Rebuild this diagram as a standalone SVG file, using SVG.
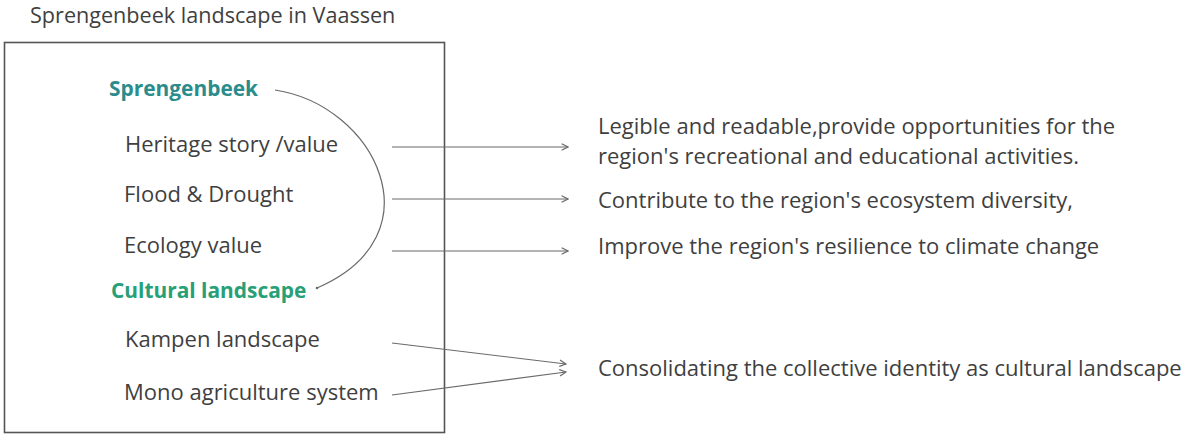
<svg xmlns="http://www.w3.org/2000/svg" width="1186" height="436" viewBox="0 0 1186 436">
<style>
text{font-family:"Open Sans","Liberation Sans",sans-serif;fill:#3f3f3f;font-size:22px}
.t{font-size:21.6px}
.h{font-weight:bold;font-size:20.9px}
.c{fill:none;stroke:#6a6a6a;stroke-width:1.2}
</style>
<defs>
<marker id="ah" viewBox="0 0 10 10" refX="9" refY="5" markerWidth="8" markerHeight="8" markerUnits="userSpaceOnUse" orient="auto">
<path d="M1,1 L9,5 L1,9" fill="none" stroke="#6a6a6a" stroke-width="1.5"/>
</marker>
</defs>
<rect width="1186" height="436" fill="#fff"/>
<text class="t" x="30" y="23">Sprengenbeek landscape in Vaassen</text>
<rect x="4.5" y="42.5" width="440" height="390" fill="none" stroke="#555" stroke-width="1.6"/>
<g id="n-sprengenbeek"><text class="h" x="109" y="96" style="fill:#2b8c8c">Sprengenbeek</text></g>
<g id="n-heritage"><text x="125" y="152">Heritage story /value</text></g>
<g id="n-flood"><text x="124" y="202">Flood &amp; Drought</text></g>
<g id="n-ecology"><text x="124" y="253">Ecology value</text></g>
<g id="n-cultural"><text class="h" x="111" y="298" style="fill:#27a077">Cultural landscape</text></g>
<g id="n-kampen"><text x="125" y="347">Kampen landscape</text></g>
<g id="n-mono"><text x="124" y="400">Mono agriculture system</text></g>
<g id="n-legible"><text x="598" y="134">Legible and readable,provide opportunities for the</text><text x="598" y="164">region's recreational and educational activities.</text></g>
<g id="n-contribute"><text x="598" y="208">Contribute to the region's ecosystem diversity,</text></g>
<g id="n-improve"><text x="598" y="254">Improve the region's resilience to climate change</text></g>
<g id="n-consolidating"><text x="598" y="376">Consolidating the collective identity as cultural landscape</text></g>
<g id="connectors">
<path class="c" d="M275,90 C375,105 440,235 317,288"/>
<circle cx="317" cy="288" r="1.3" fill="#6a6a6a"/>
<line class="c" x1="392" y1="147" x2="568" y2="147" marker-end="url(#ah)"/>
<line class="c" x1="392" y1="199" x2="568" y2="199" marker-end="url(#ah)"/>
<line class="c" x1="392" y1="251" x2="568" y2="251" marker-end="url(#ah)"/>
<line class="c" x1="392" y1="343" x2="566" y2="364" marker-end="url(#ah)"/>
<line class="c" x1="392" y1="395" x2="566" y2="372" marker-end="url(#ah)"/>
</g>
</svg>
